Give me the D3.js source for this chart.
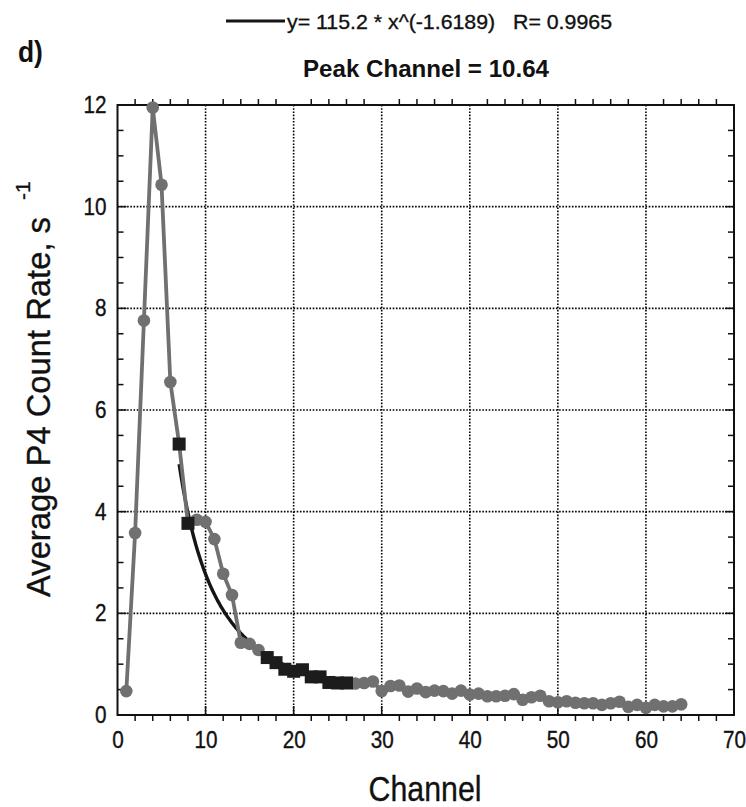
<!DOCTYPE html>
<html>
<head>
<meta charset="utf-8">
<script src="https://cdn.jsdelivr.net/npm/d3@7"></script>
<style>
  html, body { margin: 0; padding: 0; background: #fff; }
  svg { display: block; font-family: Arial, "Liberation Sans", sans-serif; }
  .heavy { stroke: #111; stroke-width: 0.35px; }
</style>
</head>
<body>
<svg id="chart" width="746" height="807"></svg>
<script>
// Average P4 count rate per channel
const channels = [1,2,3,4,5,6,7,8,9,10,11,12,13,14,15,16,17,18,19,20,21,22,23,24,25,26,27,28,29,30,31,32,
  33,34,35,36,37,38,39,40,41,42,43,44,45,46,47,48,49,50,51,52,53,54,55,56,57,58,59,60,61,62,63,64];
const rates = [0.47,3.58,7.76,11.95,10.43,6.55,5.33,3.77,3.84,3.80,3.46,2.78,2.36,1.42,1.40,1.28,
  1.13,1.03,0.90,0.86,0.89,0.75,0.75,0.64,0.63,0.63,0.62,0.63,0.66,0.47,0.57,0.58,
  0.46,0.52,0.45,0.48,0.47,0.42,0.48,0.40,0.42,0.37,0.37,0.38,0.41,0.30,0.35,0.38,
  0.27,0.25,0.27,0.24,0.23,0.23,0.20,0.23,0.26,0.16,0.20,0.14,0.20,0.17,0.17,0.21];
// Channels used in the power-law fit
const fitChannels = [7,8,17,18,19,20,21,22,23,24,25,26];
// Power-law fit y = A * x^B
const fitA = 115.2;
const fitB = -1.6189;
const fitR = 0.9965;
const fitRange = [7, 26];
const peakChannel = 10.64;

const xTicks = [0,10,20,30,40,50,60,70];
const yTicks = [0,2,4,6,8,10,12];

const svg = d3.select("#chart");
const L = 117.5, R = 734, T = 105, B = 715;
const x = d3.scaleLinear().domain([0,70]).range([L,R]);
const y = d3.scaleLinear().domain([0,12]).range([B,T]);

const grey = "#707070";
const ink = "#111";
const squeeze = 0.88;   // narrow type face look

// grid
const grid = svg.append("g").attr("stroke","#000").attr("stroke-width",1.6).attr("stroke-dasharray","1.6,1.6");
xTicks.slice(1,-1).forEach(t => grid.append("line").attr("x1",x(t)).attr("x2",x(t)).attr("y1",T).attr("y2",B));
yTicks.slice(1,-1).forEach(t => grid.append("line").attr("x1",L).attr("x2",R).attr("y1",y(t)).attr("y2",y(t)));

// axis labels
const axisBottom = d3.axisBottom(x).tickValues(xTicks).tickSize(0).tickPadding(17);
svg.append("g").attr("transform",`translate(0,${B})`).call(axisBottom)
  .call(g => g.select(".domain").remove())
  .call(g => g.selectAll(".tick text").attr("font-size",23).attr("fill",ink).attr("class","heavy")
    .attr("font-family","Arial, 'Liberation Sans', sans-serif")
    .attr("transform",`scale(0.9,1)`));
const axisLeft = d3.axisLeft(y).tickValues(yTicks).tickSize(0).tickPadding(0);
svg.append("g").attr("transform",`translate(${L},0)`).call(axisLeft)
  .call(g => g.select(".domain").remove())
  .call(g => g.selectAll(".tick text").attr("font-size",23).attr("fill",ink).attr("class","heavy")
    .attr("font-family","Arial, 'Liberation Sans', sans-serif")
    .attr("x",0).attr("transform",`translate(-11,0) scale(0.9,1)`));

// frame ticks
const minorX = d3.range(0,70.01,2);
const minorY = d3.range(0,12.01,0.5);
const ticks = svg.append("g").attr("stroke",ink).attr("stroke-width",1.5);
minorX.forEach(t => {
  if (t % 10 === 0) {
    if (t > 0 && t < 70) ticks.append("line").attr("x1",x(t)).attr("x2",x(t)).attr("y1",B).attr("y2",B-9);
  } else {
    ticks.append("line").attr("x1",x(t)).attr("x2",x(t)).attr("y1",B).attr("y2",B+6);
    ticks.append("line").attr("x1",x(t)).attr("x2",x(t)).attr("y1",T).attr("y2",T-6);
  }
});
minorY.forEach(t => {
  const len = (t % 2 === 0) ? 9 : 6;
  if (t > 0 && t < 12) {
    ticks.append("line").attr("x1",L).attr("x2",L+len).attr("y1",y(t)).attr("y2",y(t));
    ticks.append("line").attr("x1",R).attr("x2",R-len).attr("y1",y(t)).attr("y2",y(t));
  }
});

// frame
svg.append("rect").attr("x",L).attr("y",T).attr("width",R-L).attr("height",B-T)
  .attr("fill","none").attr("stroke",ink).attr("stroke-width",2);

// fitted curve
const fitPts = d3.range(fitRange[0], fitRange[1]+0.001, 0.1).map(c => [c, fitA*Math.pow(c, fitB)]);
svg.append("path").datum(fitPts)
  .attr("d", d3.line().x(d => x(d[0])).y(d => y(d[1])))
  .attr("fill","none").attr("stroke","#151515").attr("stroke-width",3.4);

// data line
const pts = channels.map((c,i) => [c, rates[i]]);
svg.append("path").datum(pts)
  .attr("d", d3.line().x(d => x(d[0])).y(d => y(d[1])))
  .attr("fill","none").attr("stroke",grey).attr("stroke-width",3.8);

// markers
const fitSet = new Set(fitChannels);
svg.append("g").selectAll("circle").data(pts.filter(d => !fitSet.has(d[0]))).join("circle")
  .attr("cx", d => x(d[0])).attr("cy", d => y(d[1])).attr("r",6.3).attr("fill",grey);
svg.append("g").selectAll("rect").data(pts.filter(d => fitSet.has(d[0]))).join("rect")
  .attr("x", d => x(d[0])-6.5).attr("y", d => y(d[1])-6.5).attr("width",13).attr("height",13).attr("fill","#1c1c1c");

// header
svg.append("text").attr("transform",`translate(18,62) scale(${squeeze},1)`).attr("font-size",30)
  .attr("font-weight","bold").attr("fill",ink).text("d)");
svg.append("line").attr("x1",226).attr("x2",285).attr("y1",21).attr("y2",21).attr("stroke","#151515").attr("stroke-width",3);
svg.append("text").attr("x",287).attr("y",29).attr("font-size",21).attr("fill",ink).attr("class","heavy")
  .attr("textLength",325).attr("lengthAdjust","spacingAndGlyphs").style("white-space","pre")
  .text(`y= ${fitA} * x^(${fitB})   R= ${fitR}`);
svg.append("text").attr("x",426).attr("y",77).attr("text-anchor","middle").attr("font-size",24).attr("font-weight","bold").attr("fill",ink)
  .attr("textLength",246).attr("lengthAdjust","spacingAndGlyphs")
  .text(`Peak Channel = ${peakChannel}`);

// axis titles
svg.append("text").attr("x",425).attr("y",801).attr("text-anchor","middle").attr("font-size",35).attr("fill",ink).attr("class","heavy")
  .attr("textLength",113).attr("lengthAdjust","spacingAndGlyphs").text("Channel");
const yt = svg.append("text").attr("transform",`translate(50,597) rotate(-90)`)
  .attr("font-size",34).attr("fill",ink).attr("class","heavy");
yt.append("tspan").attr("textLength",380).attr("lengthAdjust","spacingAndGlyphs").text("Average P4 Count Rate, s");
yt.append("tspan").attr("dy",-20).attr("dx",17).attr("font-size",21).text("-1");
</script>
</body>
</html>
